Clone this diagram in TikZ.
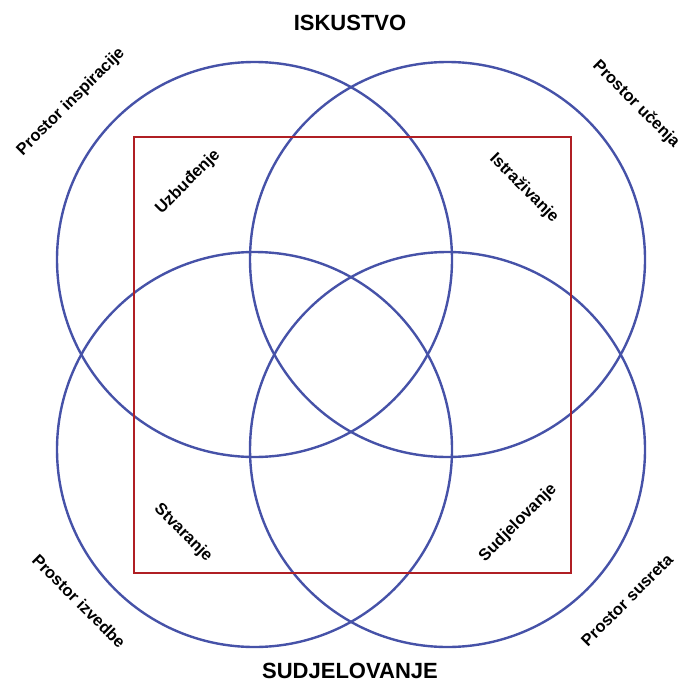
\documentclass[tikz,border=0pt]{standalone}
\usepackage{fontspec}
\setmainfont{Liberation Sans}
\definecolor{ringblue}{RGB}{70,82,168}
\definecolor{framered}{RGB}{176,31,36}

\begin{document}
\begin{tikzpicture}[x=1pt, y=-1pt,
  ring/.style={draw=ringblue, line width=2.4pt},
  frame/.style={draw=framered, line width=2pt},
  heading/.style={font=\bfseries\fontsize{22}{24}\selectfont},
  label/.style={font=\bfseries\fontsize{16.5}{18}\selectfont}]
  \useasboundingbox (0,0) rectangle (684,682);
  \foreach \x/\y in {254.5/259.5, 447.5/259.5, 254.5/449.5, 447.5/449.5} {
    \draw [ring] (\x,\y) circle (197.5);
  }
  \draw [frame] (134,137) rectangle (571,573);
  \node [heading] (iskustvo) at (350,23) {ISKUSTVO};
  \node [heading] (sudjelovanje) at (350,671) {SUDJELOVANJE};
  % outer spaces
  \node [label, rotate=45] (inspiracija) at (71,102) {Prostor inspiracije};
  \node [label, rotate=-45] (ucenje) at (636,104) {Prostor učenja};
  \node [label, rotate=-45] (izvedba) at (79,601) {Prostor izvedbe};
  \node [label, rotate=45] (susret) at (627,600) {Prostor susreta};
  % inner corners
  \node [label, rotate=45] (uzbudenje) at (188,182) {Uzbuđenje};
  \node [label, rotate=-45] (istrazivanje) at (524,188) {Istraživanje};
  \node [label, rotate=-45] (stvaranje) at (183,533) {Stvaranje};
  \node [label, rotate=45] (sudjel) at (518,523) {Sudjelovanje};
\end{tikzpicture}
\end{document}
